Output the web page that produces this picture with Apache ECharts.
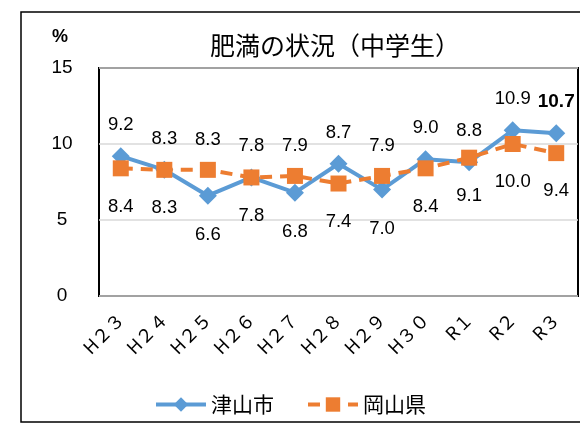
<!DOCTYPE html>
<html>
<head>
<meta charset="utf-8">
<script src="https://cdn.jsdelivr.net/npm/echarts@6/dist/echarts.min.js"></script>
<style>
  html, body { margin: 0; padding: 0; background: #fff; }
  #chart { width: 580px; height: 426px; }
</style>
</head>
<body>
<div id="chart"></div>
<script>
// values
const years = ['H２３', 'H２４', 'H２５', 'H２６', 'H２７', 'H２８', 'H２９', 'H３０', 'R１', 'R２', 'R３'];
const tsuyama = [9.2, 8.3, 6.6, 7.8, 6.8, 8.7, 7.0, 9.0, 8.8, 10.9, 10.7];
const okayama = [8.4, 8.3, 8.3, 7.8, 7.9, 7.4, 7.9, 8.4, 9.1, 10.0, 9.4];
const yTicks = [0, 5, 10, 15];

const FONT = "'Liberation Sans', 'Noto Sans CJK JP', sans-serif";
const JP = "'Noto Sans CJK JP', sans-serif";
const BLUE = '#5B9BD5';
const ORANGE = '#ED7D31';

// blue label goes under its point when it sits clearly below the orange one
const blueBelow = tsuyama.map((v, i) => okayama[i] - v > 0.5);

const labelFor = (below, last) => ({
  show: true,
  position: below ? 'bottom' : 'top',
  distance: below ? 21 : 13,
  color: '#000',
  fontFamily: FONT,
  fontSize: last ? 19 : 18.5,
  fontWeight: last ? 'bold' : 'normal',
  formatter: p => p.value.toFixed(1)
});

const chart = echarts.init(document.getElementById('chart'));

chart.setOption({
  animation: false,
  backgroundColor: '#fff',
  title: {
    text: '肥満の状況（中学生）',
    left: 330,
    top: 28,
    textAlign: 'center',
    textStyle: { fontFamily: JP, fontSize: 25, fontWeight: 'normal', color: '#000' }
  },
  graphic: [
    {
      type: 'rect',
      shape: { x: 21, y: 12, width: 600, height: 410 },
      style: { fill: 'none', stroke: '#000', lineWidth: 1.5 },
      z: -1
    },
    {
      type: 'text',
      left: 52,
      top: 28,
      style: { text: '%', fontFamily: FONT, fontSize: 18, fontWeight: 'bold', fill: '#000' }
    }
  ],
  legend: {
    bottom: 6,
    left: 'center',
    itemWidth: 50,
    itemHeight: 18,
    itemGap: 32,
    textStyle: { fontFamily: JP, fontSize: 21, color: '#000' },
    data: [
      { name: '津山市', lineStyle: { width: 4 } },
      { name: '岡山県', lineStyle: { width: 4 } }
    ]
  },
  grid: {
    left: 99,
    top: 68,
    right: 2,
    bottom: 130,
    show: true,
    borderColor: '#000',
    borderWidth: 2,
    backgroundColor: 'transparent'
  },
  xAxis: {
    type: 'category',
    data: years,
    boundaryGap: true,
    axisLine: { show: false },
    axisTick: { show: false },
    axisLabel: {
      rotate: 45,
      margin: 20,
      interval: 0,
      color: '#000',
      fontFamily: JP,
      fontSize: 18
    }
  },
  yAxis: {
    type: 'value',
    min: yTicks[0],
    max: yTicks[yTicks.length - 1],
    interval: 5,
    axisLine: { show: false },
    axisTick: { show: false },
    splitLine: { lineStyle: { color: '#d9d9d9', width: 1.5 } },
    axisLabel: {
      margin: 37,
      align: 'center',
      color: '#000',
      fontFamily: FONT,
      fontSize: 19
    }
  },
  series: [
    {
      name: '津山市',
      type: 'line',
      data: tsuyama.map((v, i) => ({
        value: v,
        label: labelFor(blueBelow[i], i === tsuyama.length - 1)
      })),
      symbol: 'diamond',
      symbolSize: 18,
      itemStyle: { color: BLUE },
      lineStyle: { color: BLUE, width: 4 },
      z: 3
    },
    {
      name: '岡山県',
      type: 'line',
      data: okayama.map((v, i) => ({
        value: v,
        label: labelFor(!blueBelow[i], false)
      })),
      symbol: 'rect',
      symbolSize: 16,
      itemStyle: { color: ORANGE },
      lineStyle: { color: ORANGE, width: 4, type: [12, 8] },
      z: 4
    }
  ]
});
</script>
</body>
</html>
